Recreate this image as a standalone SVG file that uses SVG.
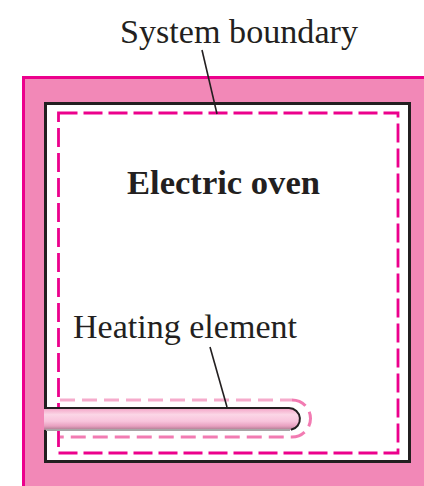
<svg xmlns="http://www.w3.org/2000/svg" width="424" height="486" viewBox="0 0 424 486">
<style>
.lbl{font-family:"Liberation Serif","Times New Roman",serif;font-size:33px;fill:#231f20}
.b{font-weight:bold}
.lead{stroke:#231f20;stroke-width:1.6;fill:none}
.dash{fill:none;stroke:#ec008c;stroke-width:2.8;stroke-dasharray:19 6}
.tdash{fill:none;stroke-width:3;stroke-dasharray:15 7}
</style>
<defs>
<linearGradient id="tube" x1="0" y1="0" x2="0" y2="1">
<stop offset="0" stop-color="#f3a2c5"/>
<stop offset="0.3" stop-color="#fbd6e6"/>
<stop offset="0.6" stop-color="#f8c4dc"/>
<stop offset="0.82" stop-color="#e8a0c0"/>
<stop offset="1" stop-color="#a87a8e"/>
</linearGradient>
</defs>
<rect width="424" height="486" fill="#ffffff"/>
<g id="wall">
<rect x="23.5" y="77.5" width="430" height="430" fill="#f288b7" stroke="#ec008c" stroke-width="3"/>
</g>
<g id="oven">
<rect x="45.5" y="103.5" width="364" height="358" fill="#ffffff" stroke="#231f20" stroke-width="3"/>
<text class="lbl b" x="127" y="194" textLength="193" lengthAdjust="spacingAndGlyphs">Electric oven</text>
</g>
<g id="system-boundary">
<rect class="dash" x="58.5" y="113" width="339.5" height="340"/>
<text class="lbl" x="120" y="43" textLength="238" lengthAdjust="spacingAndGlyphs">System boundary</text>
</g>
<g id="heating-element">
<path class="tdash" d="M60,400 H292" stroke="#f6abcc"/>
<path class="tdash" d="M292,400 A18.5,18.5 0 0 1 292,437 H60" stroke="#f27bb2"/>
<path d="M44,408 H289 A11,11 0 0 1 289,430 H44 Z" fill="url(#tube)"/>
<path d="M44,408 H289 A11,11 0 0 1 291,429.8" fill="none" stroke="#231f20" stroke-width="2"/>
<path d="M46,430 H290" fill="none" stroke="#a9a4a6" stroke-width="2"/>
<text class="lbl" x="73" y="338" textLength="224" lengthAdjust="spacingAndGlyphs">Heating element</text>
</g>
<g id="connectors">
<line class="lead" x1="202" y1="50" x2="217" y2="114"/>
<line class="lead" x1="210" y1="347" x2="227" y2="407"/>
</g>
</svg>
